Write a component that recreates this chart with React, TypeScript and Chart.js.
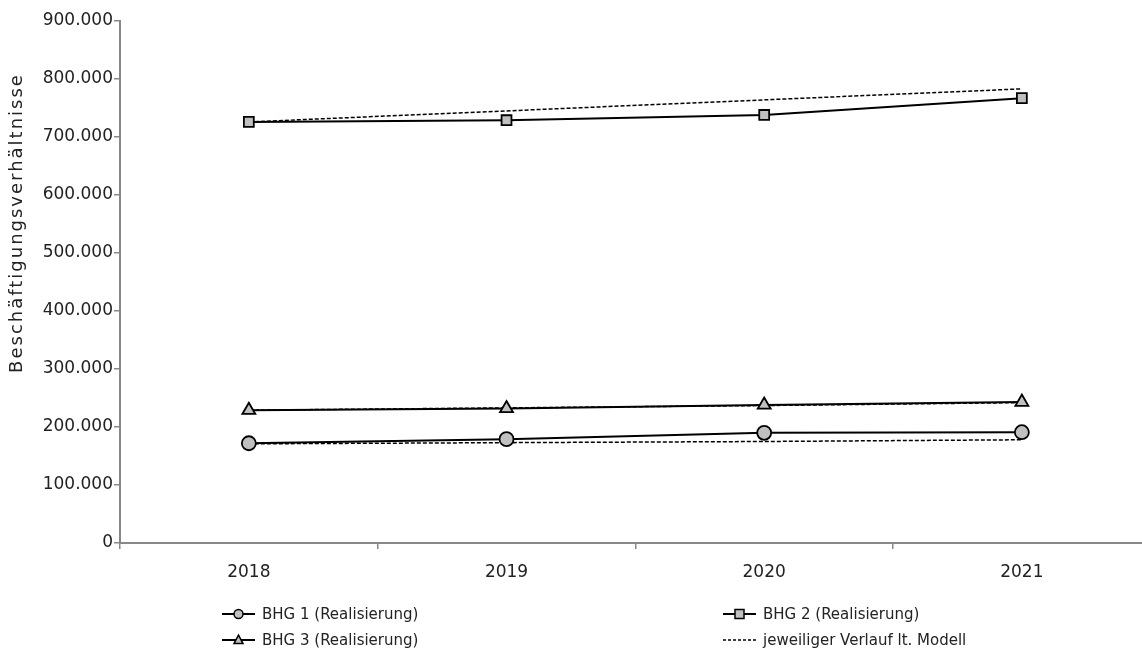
import React, { useEffect, useRef } from "react";
import { Chart, registerables } from "chart.js";

Chart.register(...registerables);

const years = ["2018", "2019", "2020", "2021"];
const bhg1Real = [172000, 179000, 190000, 191000];
const bhg2Real = [726000, 729000, 738000, 767000];
const bhg3Real = [229000, 232000, 238000, 243000];
const bhg1Model = [171000, 173000, 175000, 178000];
const bhg2Model = [726000, 745000, 764000, 783000];
const bhg3Model = [229000, 233000, 237000, 242000];
const yTitle = "Beschäftigungsverhältnisse";
const legendLabels = [
  "BHG 1 (Realisierung)",
  "BHG 2 (Realisierung)",
  "BHG 3 (Realisierung)",
  "jeweiliger Verlauf lt. Modell",
];

const FONT = "DejaVu Sans";
const TXT = "#222";
const AXIS = "#888";
const FILL = "#c0c0c0";

function drawMarker(ctx: CanvasRenderingContext2D, style: string, x: number, y: number, r: number) {
  ctx.save();
  ctx.fillStyle = FILL;
  ctx.strokeStyle = "#000";
  ctx.lineWidth = 1.5;
  ctx.beginPath();
  if (style === "circle") {
    ctx.arc(x, y, r, 0, Math.PI * 2);
  } else if (style === "rect") {
    ctx.rect(x - r, y - r, 2 * r, 2 * r);
  } else if (style === "triangle") {
    ctx.moveTo(x, y - r * 1.1);
    ctx.lineTo(x + r, y + r * 0.8);
    ctx.lineTo(x - r, y + r * 0.8);
    ctx.closePath();
  }
  ctx.fill();
  ctx.stroke();
  ctx.restore();
}

const extrasPlugin = {
  id: "extras",
  afterDraw(chart: any) {
    const ctx: any = chart.ctx;
    ctx.save();
    // y axis title
    ctx.translate(17, 223);
    ctx.rotate(-Math.PI / 2);
    ctx.font = `18px "${FONT}"`;
    ctx.letterSpacing = "2px";
    ctx.fillStyle = TXT;
    ctx.textAlign = "center";
    ctx.textBaseline = "middle";
    ctx.fillText(yTitle, 0, 0);
    ctx.restore();

    // legend
    const items = [
      { label: legendLabels[0], marker: "circle", dash: false, x: 222, y: 614 },
      { label: legendLabels[1], marker: "rect", dash: false, x: 723, y: 614 },
      { label: legendLabels[2], marker: "triangle", dash: false, x: 222, y: 640 },
      { label: legendLabels[3], marker: "", dash: true, x: 723, y: 640 },
    ];
    items.forEach((it) => {
      ctx.save();
      ctx.strokeStyle = "#000";
      ctx.lineWidth = it.dash ? 1.5 : 2;
      ctx.setLineDash(it.dash ? [3, 2] : []);
      ctx.beginPath();
      ctx.moveTo(it.x, it.y);
      ctx.lineTo(it.x + 33, it.y);
      ctx.stroke();
      ctx.setLineDash([]);
      if (it.marker) drawMarker(ctx, it.marker, it.x + 16.5, it.y, 4.5);
      ctx.font = `15px "${FONT}"`;
      ctx.fillStyle = TXT;
      ctx.textAlign = "left";
      ctx.textBaseline = "middle";
      ctx.fillText(it.label, it.x + 40, it.y + 1);
      ctx.restore();
    });
  },
};

export default function App() {
  const ref = useRef<HTMLCanvasElement>(null);
  useEffect(() => {
    document.body.style.overflow = "hidden";
    const realStyle = (data: number[], ps: string, r: number) => ({
      data,
      borderColor: "#000",
      borderWidth: 2,
      backgroundColor: FILL,
      pointBackgroundColor: FILL,
      pointBorderColor: "#000",
      pointBorderWidth: 1.8,
      pointStyle: ps,
      pointRadius: r,
      tension: 0,
      order: 0,
    });
    const modelStyle = (data: number[]) => ({
      data,
      borderColor: "#000",
      borderWidth: 1.5,
      borderDash: [4, 2],
      pointRadius: 0,
      tension: 0,
      fill: false,
      order: 1,
    });
    const chart = new Chart(ref.current!, {
      type: "line",
      data: {
        labels: years,
        datasets: [
          { label: legendLabels[0], ...realStyle(bhg1Real, "circle", 7) },
          { label: legendLabels[1], ...realStyle(bhg2Real, "rect", 7) },
          { label: legendLabels[2], ...realStyle(bhg3Real, "triangle", 7.5) },
          { label: "m1", ...modelStyle(bhg1Model) },
          { label: "m2", ...modelStyle(bhg2Model) },
          { label: "m3", ...modelStyle(bhg3Model) },
        ] as any,
      },
      options: {
        animation: false,
        responsive: false,
        layout: { padding: { top: 21, right: 9, left: 0, bottom: 0 } },
        plugins: { legend: { display: false }, tooltip: { enabled: false } },
        scales: {
          x: {
            type: "category",
            offset: true,
            grid: {
              offset: true,
              drawOnChartArea: false,
              drawTicks: true,
              tickLength: 6,
              color: AXIS,
              lineWidth: 1.5,
            },
            border: { color: AXIS, width: 2 },
            ticks: { font: { family: FONT, size: 17 }, color: TXT, padding: 13 },
            afterFit: (s: any) => {
              s.height = 112;
            },
          },
          y: {
            min: 0,
            max: 900000,
            grid: {
              drawOnChartArea: false,
              drawTicks: true,
              tickLength: 6,
              color: AXIS,
              lineWidth: 1.5,
            },
            border: { color: AXIS, width: 2 },
            ticks: {
              stepSize: 100000,
              font: { family: FONT, size: 17 },
              color: TXT,
              padding: 1,
              callback: (v: any) => Number(v).toLocaleString("de-DE"),
            },
            afterFit: (s: any) => {
              s.width = 120;
            },
          },
        },
      },
      plugins: [extrasPlugin],
    });
    return () => chart.destroy();
  }, []);
  return (
    <div style={{ position: "absolute", left: 0, top: 0, width: 1160, height: 655 }}>
      <canvas ref={ref} width={1160} height={655} />
    </div>
  );
}
